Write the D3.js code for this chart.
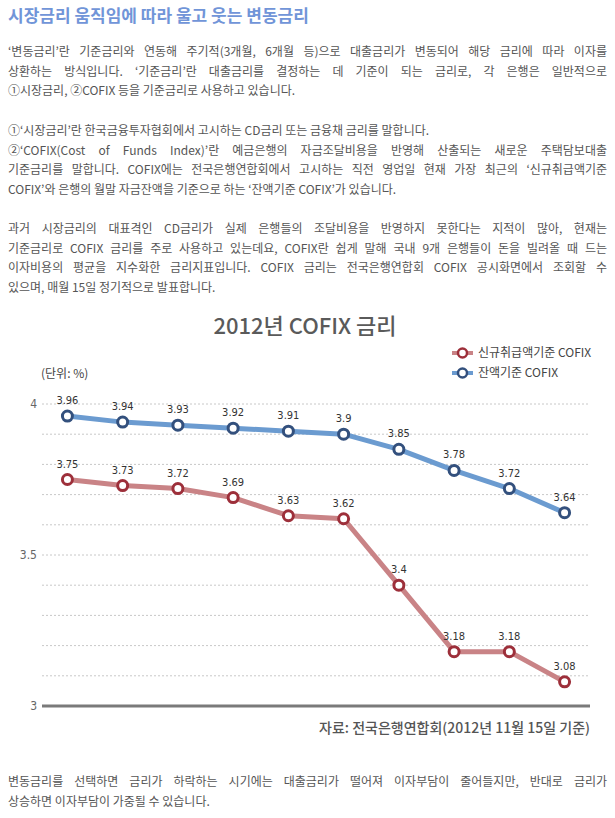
<!DOCTYPE html>
<html>
<head>
<meta charset="utf-8">
<script src="https://cdn.jsdelivr.net/npm/d3@7"></script>
<style>
  body { margin: 0; background: #fff; }
  #page { position: relative; width: 615px; height: 818px; overflow: hidden; }
  .heading { position: absolute; left: 8px; top: 2px; font: bold 17px "Noto Sans CJK KR", sans-serif; color: #7195d8; }
  .line { position: absolute; left: 8px; white-space: nowrap; font: 12px "Noto Sans CJK KR", sans-serif; color: #555; line-height: 16px; }
  #chart { position: absolute; left: 0; top: 0; }
</style>
</head>
<body>
<div id="page">
  <div class="heading">시장금리 움직임에 따라 울고 웃는 변동금리</div>
  <svg id="chart"></svg>
</div>
<script>
// Data
const months = ["1월", "2월", "3월", "4월", "5월", "6월", "7월", "8월", "9월", "10월"];
const newCofix = [3.75, 3.73, 3.72, 3.69, 3.63, 3.62, 3.4, 3.18, 3.18, 3.08];
const balanceCofix = [3.96, 3.94, 3.93, 3.92, 3.91, 3.9, 3.85, 3.78, 3.72, 3.64];
const seriesNames = ["신규취급액기준 COFIX", "잔액기준 COFIX"];
const yTickLabels = [3, 3.5, 4];
const gridValues = [3.1, 3.2, 3.3, 3.4, 3.5, 3.6, 3.7, 3.8, 3.9, 4];

// body text, one entry per line: [text, justify?]
const paragraphs = [
  { top: 51, lines: [
    ["‘변동금리’란 기준금리와 연동해 주기적(3개월, 6개월 등)으로 대출금리가 변동되어 해당 금리에 따라 이자를", true],
    ["상환하는 방식입니다. ‘기준금리’란 대출금리를 결정하는 데 기준이 되는 금리로, 각 은행은 일반적으로", true],
    ["①시장금리, ②COFIX 등을 기준금리로 사용하고 있습니다.", false]] },
  { top: 130, lines: [
    ["①‘시장금리’란 한국금융투자협회에서 고시하는 CD금리 또는 금융채 금리를 말합니다.", false],
    ["②‘COFIX(Cost of Funds Index)’란 예금은행의 자금조달비용을 반영해 산출되는 새로운 주택담보대출", true],
    ["기준금리를 말합니다. COFIX에는 전국은행연합회에서 고시하는 직전 영업일 현재 가장 최근의 ‘신규취급액기준", true],
    ["COFIX’와 은행의 월말 자금잔액을 기준으로 하는 ‘잔액기준 COFIX’가 있습니다.", false]] },
  { top: 228, lines: [
    ["과거 시장금리의 대표격인 CD금리가 실제 은행들의 조달비용을 반영하지 못한다는 지적이 많아, 현재는", true],
    ["기준금리로 COFIX 금리를 주로 사용하고 있는데요, COFIX란 쉽게 말해 국내 9개 은행들이 돈을 빌려올 때 드는", true],
    ["이자비용의 평균을 지수화한 금리지표입니다. COFIX 금리는 전국은행연합회 COFIX 공시화면에서 조회할 수", true],
    ["있으며, 매월 15일 정기적으로 발표합니다.", false]] },
  { top: 781, lines: [
    ["변동금리를 선택하면 금리가 하락하는 시기에는 대출금리가 떨어져 이자부담이 줄어들지만, 반대로 금리가", true],
    ["상승하면 이자부담이 가중될 수 있습니다.", false]] }
];

const page = d3.select("#page");
const textWidth = 599;
const lineGap = 19.5;

paragraphs.forEach((p) => {
  p.lines.forEach(([txt, justify], i) => {
    const div = page.append("div")
      .attr("class", "line")
      .style("top", `${p.top + i * lineGap - 8}px`)
      .text(txt);
    const natural = div.node().getBoundingClientRect().width;
    const spaces = txt.split(" ").length - 1;
    if (justify && spaces > 0) {
      div.style("word-spacing", `${(textWidth - natural) / spaces}px`);
    } else if (natural > textWidth) {
      div.style("letter-spacing", `${(textWidth - natural) / txt.length}px`);
    }
  });
});

// Chart
const dimensions = { width: 615, height: 818 };
const svg = d3.select("#chart")
  .attr("width", dimensions.width)
  .attr("height", dimensions.height);

const plot = { left: 42, right: 590, top: 404, bottom: 706 };

const xScale = d3.scalePoint()
  .domain(months)
  .range([plot.left, plot.right])
  .padding(0.46);
const yScale = d3.scaleLinear()
  .domain([3, 4])
  .range([plot.bottom, plot.top]);

const numFont = '"DejaVu Sans Condensed", "DejaVu Sans", sans-serif';

// Title
svg.append("text")
  .attr("x", 305)
  .attr("y", 334)
  .attr("text-anchor", "middle")
  .attr("font-family", '"Noto Sans CJK KR", sans-serif')
  .attr("font-weight", 500)
  .attr("font-size", 22)
  .attr("fill", "#5a5a5a")
  .text("2012년 COFIX 금리");

svg.append("text")
  .attr("x", 41)
  .attr("y", 378)
  .attr("font-family", '"Noto Sans CJK KR", sans-serif')
  .attr("font-size", 12)
  .attr("fill", "#444")
  .text("(단위: %)");

// Gridlines
svg.append("g")
  .selectAll("line")
  .data(gridValues)
  .join("line")
  .attr("x1", plot.left)
  .attr("x2", plot.right)
  .attr("y1", (d) => yScale(d))
  .attr("y2", (d) => yScale(d))
  .attr("stroke", "#c8c8c8")
  .attr("stroke-width", 1)
  .attr("stroke-dasharray", "2,2");

// Baseline at 3
svg.append("line")
  .attr("x1", plot.left)
  .attr("x2", plot.right)
  .attr("y1", yScale(3))
  .attr("y2", yScale(3))
  .attr("stroke", "#7a7a7a")
  .attr("stroke-width", 3);

// Y axis labels
const yAxis = d3.axisLeft(yScale)
  .tickValues(yTickLabels)
  .tickSize(0)
  .tickPadding(0)
  .tickFormat(d3.format("~g"));
const yAxisGroup = svg.append("g")
  .attr("transform", `translate(${plot.left - 5}, 0)`)
  .call(yAxis);
yAxisGroup.select(".domain").remove();
yAxisGroup.selectAll("text")
  .attr("font-family", numFont)
  .attr("font-size", 12)
  .attr("fill", "#666");

// Lines + markers
const series = [
  { name: seriesNames[0], values: newCofix, line: "#c98386", dot: "#9d2f3a" },
  { name: seriesNames[1], values: balanceCofix, line: "#6b9bd0", dot: "#33507d" }
];

const lineGen = d3.line()
  .x((d, i) => xScale(months[i]))
  .y((d) => yScale(d));

series.forEach((s) => {
  const g = svg.append("g");
  g.append("path")
    .datum(s.values)
    .attr("d", lineGen)
    .attr("fill", "none")
    .attr("stroke", s.line)
    .attr("stroke-width", 5)
    .attr("stroke-linejoin", "round");
  g.selectAll("circle")
    .data(s.values)
    .join("circle")
    .attr("cx", (d, i) => xScale(months[i]))
    .attr("cy", (d) => yScale(d))
    .attr("r", 5)
    .attr("fill", "#fff")
    .attr("stroke", s.dot)
    .attr("stroke-width", 3);
  g.selectAll("text")
    .data(s.values)
    .join("text")
    .attr("x", (d, i) => xScale(months[i]))
    .attr("y", (d) => yScale(d) - 12)
    .attr("text-anchor", "middle")
    .attr("font-family", numFont)
    .attr("font-size", 11)
    .attr("fill", "#333")
    .text((d) => d3.format("~g")(d));
});

// Legend
const legend = svg.append("g")
  .selectAll("g")
  .data(series)
  .join("g")
  .attr("transform", (d, i) => `translate(452, ${353 + i * 20})`);
legend.append("line")
  .attr("x1", 0).attr("x2", 21)
  .attr("stroke", (d) => d.line)
  .attr("stroke-width", 4);
legend.append("circle")
  .attr("cx", 10.5).attr("r", 4.5)
  .attr("fill", "#fff")
  .attr("stroke", (d) => d.dot)
  .attr("stroke-width", 2.5);
legend.append("text")
  .attr("x", 26)
  .attr("y", 4)
  .attr("font-family", '"Noto Sans CJK KR", sans-serif')
  .attr("font-size", 12)
  .attr("fill", "#444")
  .text((d) => d.name);

// Source
svg.append("text")
  .attr("x", plot.right)
  .attr("y", 733)
  .attr("text-anchor", "end")
  .attr("font-family", '"Noto Sans CJK KR", sans-serif')
  .attr("font-weight", 500)
  .attr("font-size", 14)
  .attr("fill", "#555")
  .text("자료: 전국은행연합회(2012년 11월 15일 기준)");
</script>
</body>
</html>
